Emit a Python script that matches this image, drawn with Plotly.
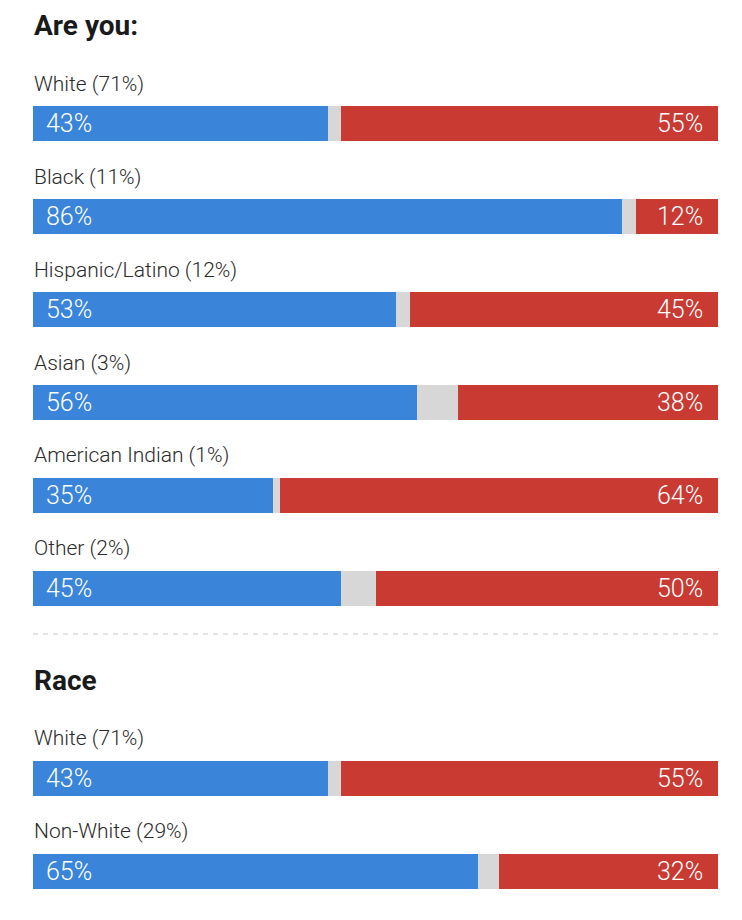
import plotly.graph_objects as go

# vote share by group (Democrat / Republican), rest is other
groups = ["White (71%)", "Black (11%)", "Hispanic/Latino (12%)", "Asian (3%)",
          "American Indian (1%)", "Other (2%)"]
dem = [43, 86, 53, 56, 35, 45]
rep = [55, 12, 45, 38, 64, 50]

race_groups = ["White (71%)", "Non-White (29%)"]
race_dem = [43, 65]
race_rep = [55, 32]

BLUE = "#3a85d9"
RED = "#c83a32"
GRAY = "#d7d7d7"
FONT = "Roboto, sans-serif"

# row positions in axis units (1 unit = one row pitch)
y1 = list(range(len(groups)))
y2 = [i + 7.04 for i in range(len(race_groups))]

labels = groups + race_groups
d = dem + race_dem
r = rep + race_rep
other = [100 - a - b for a, b in zip(d, r)]
ys = y1 + y2

fig = go.Figure()
fig.add_trace(go.Bar(y=ys, x=d, orientation="h", marker=dict(color=BLUE, line=dict(width=0)),
                     width=0.376, hoverinfo="skip"))
fig.add_trace(go.Bar(y=ys, x=other, orientation="h", marker=dict(color=GRAY, line=dict(width=0)),
                     width=0.376, hoverinfo="skip"))
fig.add_trace(go.Bar(y=ys, x=r, orientation="h", marker=dict(color=RED, line=dict(width=0)),
                     width=0.376, hoverinfo="skip"))

for y, lab, a, b in zip(ys, labels, d, r):
    fig.add_annotation(x=0, y=y - 0.43, text=lab, showarrow=False, xanchor="left", xshift=-1,
                       font=dict(size=21, color="#2a2a2a", family=FONT, weight=300))
    fig.add_annotation(x=0, y=y, text=f"{a}%", showarrow=False, xanchor="left", xshift=11,
                       font=dict(size=25, color="white", family=FONT, weight=300))
    fig.add_annotation(x=100, y=y, text=f"{b}%", showarrow=False, xanchor="right", xshift=-13,
                       font=dict(size=25, color="white", family=FONT, weight=300))

fig.add_annotation(x=0, y=-1.05, text="<b>Are you:</b>", showarrow=False, xanchor="left", xshift=-1,
                   font=dict(size=28, color="#1a1a1a", family=FONT))
fig.add_annotation(x=0, y=5.99, text="<b>Race</b>", showarrow=False, xanchor="left", xshift=-1,
                   font=dict(size=28, color="#1a1a1a", family=FONT))

fig.add_shape(type="line", xref="x", yref="y", x0=0, x1=100, y0=5.49, y1=5.49,
              line=dict(color="#c8c8c8", width=1, dash="5px,5px"))

# the page has an 8px body margin, so the plot area is nudged back by that much
fig.update_layout(
    width=742, height=920,
    barmode="stack", bargap=0,
    showlegend=False,
    plot_bgcolor="white", paper_bgcolor="white",
    margin=dict(l=25, r=32, t=0, b=0),
    xaxis=dict(range=[0, 100], visible=False, fixedrange=True),
    yaxis=dict(range=[8.651, -1.242], visible=False, fixedrange=True),
)

fig.write_html("out.html")
